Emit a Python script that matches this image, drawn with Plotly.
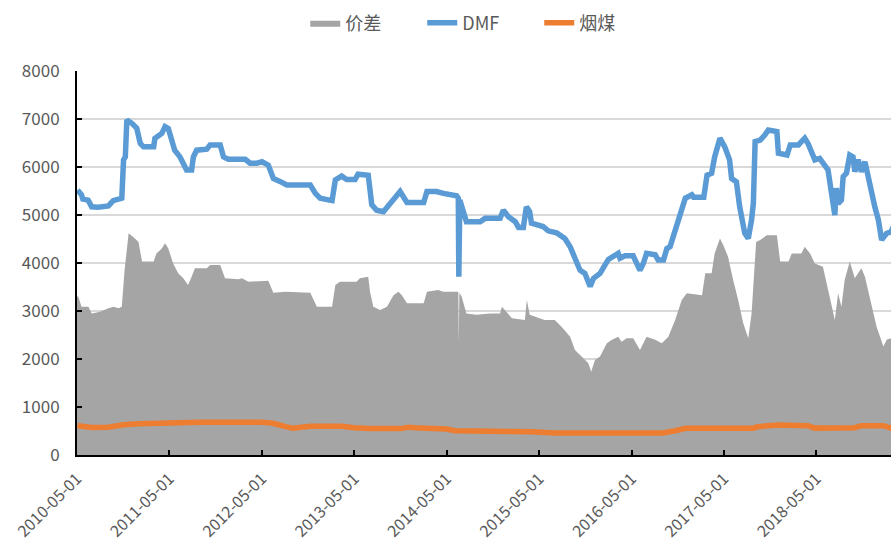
import plotly.graph_objects as go

# ---- 价差 (spread, gray area) ----
spread_dates = [
    "2010-05-01", "2010-05-06", "2010-05-19", "2010-06-15", "2010-06-28", "2010-07-31", "2010-09-02",
    "2010-09-22", "2010-10-12", "2010-10-25", "2010-11-05", "2010-11-21", "2010-12-16", "2010-12-30",
    "2011-01-13", "2011-02-28", "2011-03-11", "2011-04-01", "2011-04-14", "2011-04-27", "2011-05-16",
    "2011-06-05", "2011-06-25", "2011-07-14", "2011-07-28", "2011-08-10", "2011-09-26", "2011-10-09",
    "2011-11-18", "2011-12-07", "2012-01-29", "2012-02-12", "2012-03-08", "2012-05-26", "2012-06-15",
    "2012-08-01", "2012-11-08", "2012-11-21", "2012-12-04", "2013-02-02", "2013-02-15", "2013-03-05",
    "2013-05-10", "2013-05-23", "2013-06-25", "2013-07-02", "2013-07-15", "2013-08-11", "2013-09-07",
    "2013-10-03", "2013-10-22", "2013-11-05", "2013-11-25", "2014-01-30", "2014-02-12", "2014-03-28",
    "2014-04-18", "2014-06-09", "2014-06-16", "2014-06-18", "2014-06-20", "2014-06-29", "2014-07-18",
    "2014-08-27", "2014-10-19", "2014-11-28", "2014-12-05", "2014-12-17", "2015-01-14", "2015-03-06",
    "2015-03-14", "2015-03-25", "2015-05-23", "2015-07-02", "2015-07-29", "2015-09-01", "2015-09-20",
    "2015-10-16", "2015-11-12", "2015-11-23", "2015-12-08", "2015-12-28", "2016-01-24", "2016-02-13",
    "2016-03-09", "2016-03-22", "2016-04-11", "2016-05-07", "2016-06-03", "2016-06-29", "2016-08-02",
    "2016-08-28", "2016-09-23", "2016-10-20", "2016-11-15", "2016-12-05", "2017-02-03", "2017-02-16",
    "2017-03-13", "2017-03-25", "2017-04-15", "2017-04-28", "2017-05-17", "2017-06-06", "2017-06-26",
    "2017-07-16", "2017-08-05", "2017-08-18", "2017-09-05", "2017-09-21", "2017-10-17", "2017-11-26",
    "2017-12-09", "2018-01-11", "2018-01-24", "2018-03-03", "2018-03-16", "2018-04-06", "2018-04-25",
    "2018-05-27", "2018-06-16", "2018-07-13", "2018-07-26", "2018-08-08", "2018-08-21", "2018-09-10",
    "2018-09-30", "2018-10-26", "2018-11-09", "2018-12-05", "2018-12-25", "2019-01-21", "2019-02-03",
    "2019-02-20", "2019-03-01",
]
spread_values = [
    3300, 3300, 3090, 3090, 2950, 2985, 3055,
    3090, 3055, 3090, 3850, 4620, 4510, 4440,
    4030, 4030, 4200, 4300, 4410, 4300, 3990,
    3785, 3680, 3540, 3715, 3890, 3890, 3960,
    3960, 3680, 3660, 3680, 3610, 3630, 3380,
    3400, 3380, 3230, 3090, 3090, 3540, 3610,
    3610, 3680, 3715, 3400, 3090, 3020, 3090,
    3330, 3400, 3330, 3160, 3160, 3400, 3440,
    3400, 3400, 3400, 2330, 3380, 3300, 2950,
    2920, 2950, 2950, 3090, 3020, 2850, 2810,
    3230, 2920, 2810, 2810, 2670, 2465, 2190,
    2050, 1910, 1735, 1980, 2050, 2330, 2400,
    2465, 2360, 2430, 2430, 2190, 2465, 2400,
    2330, 2465, 2810, 3230, 3370, 3330, 3785,
    3785, 4200, 4510, 4375, 4130, 3650, 3230,
    2745, 2430, 2950, 4440, 4480, 4580, 4580,
    4030, 4030, 4200, 4200, 4340, 4200, 3990,
    3920, 3440, 2810, 3370, 3090, 3650, 4030,
    3680, 3890, 3715, 3090, 2670, 2260, 2400,
    2430, 2450,
]

# ---- DMF (blue line) ----
dmf_dates = [
    "2010-05-03", "2010-05-19", "2010-05-24", "2010-06-14", "2010-06-28", "2010-07-23", "2010-09-02",
    "2010-09-21", "2010-10-25", "2010-11-01", "2010-11-08", "2010-11-14", "2010-12-04", "2010-12-23",
    "2011-01-06", "2011-01-19", "2011-02-28", "2011-03-05", "2011-04-01", "2011-04-14", "2011-04-27",
    "2011-05-22", "2011-06-12", "2011-07-02", "2011-07-08", "2011-07-28", "2011-08-04", "2011-08-17",
    "2011-09-26", "2011-10-09", "2011-11-18", "2011-12-01", "2011-12-20", "2012-02-25", "2012-03-15",
    "2012-04-11", "2012-05-01", "2012-05-26", "2012-06-15", "2012-07-11", "2012-08-01", "2012-08-07",
    "2012-11-08", "2012-11-28", "2012-12-17", "2013-02-02", "2013-02-15", "2013-03-12", "2013-04-01",
    "2013-05-04", "2013-05-16", "2013-06-25", "2013-07-09", "2013-07-28", "2013-08-24", "2013-09-13",
    "2013-10-09", "2013-10-29", "2013-11-25", "2014-01-30", "2014-02-12", "2014-03-22", "2014-04-18",
    "2014-06-09", "2014-06-16", "2014-06-18", "2014-06-22", "2014-07-05", "2014-07-18", "2014-09-10",
    "2014-09-30", "2014-11-28", "2014-12-11", "2014-12-31", "2015-01-27", "2015-02-09", "2015-02-28",
    "2015-03-12", "2015-03-25", "2015-04-01", "2015-05-17", "2015-06-06", "2015-07-09", "2015-08-11",
    "2015-09-01", "2015-09-20", "2015-10-10", "2015-10-29", "2015-11-19", "2015-12-02", "2015-12-28",
    "2016-01-30", "2016-03-09", "2016-03-16", "2016-04-05", "2016-05-07", "2016-06-03", "2016-06-16",
    "2016-06-29", "2016-08-02", "2016-08-14", "2016-09-04", "2016-09-17", "2016-09-30", "2016-10-20",
    "2016-11-09", "2016-11-29", "2016-12-25", "2017-01-01", "2017-02-10", "2017-02-23", "2017-03-13",
    "2017-03-25", "2017-04-15", "2017-05-04", "2017-05-23", "2017-05-31", "2017-06-19", "2017-07-02",
    "2017-07-22", "2017-08-05", "2017-08-18", "2017-08-25", "2017-09-01", "2017-09-21", "2017-10-10",
    "2017-10-23", "2017-11-26", "2017-12-02", "2018-01-05", "2018-01-18", "2018-02-19", "2018-03-16",
    "2018-03-29", "2018-04-12", "2018-04-25", "2018-05-14", "2018-05-27", "2018-06-16", "2018-06-30",
    "2018-07-13", "2018-07-19", "2018-07-26", "2018-08-08", "2018-08-15", "2018-08-28", "2018-09-10",
    "2018-09-23", "2018-09-30", "2018-10-13", "2018-10-26", "2018-11-09", "2018-11-29", "2018-12-18",
    "2019-01-01", "2019-01-14", "2019-02-03", "2019-02-20", "2019-03-01",
]
dmf_values = [
    5520, 5420, 5330, 5310, 5170, 5160, 5190,
    5300, 5350, 6150, 6210, 6980, 6910, 6810,
    6490, 6420, 6420, 6600, 6700, 6840, 6800,
    6350, 6210, 6000, 5940, 5940, 6210, 6350,
    6370, 6460, 6460, 6210, 6160, 6160, 6080,
    6080, 6110, 6040, 5760, 5700, 5640, 5625,
    5625, 5450, 5350, 5300, 5730, 5810, 5740,
    5740, 5850, 5830, 5210, 5100, 5070, 5210,
    5380, 5490, 5260, 5260, 5490, 5490, 5450,
    5400, 5350, 3715, 5310, 5100, 4860, 4860,
    4930, 4930, 5100, 4965, 4860, 4740, 4740,
    5170, 5070, 4830, 4760, 4670, 4630, 4510,
    4340, 4100, 3850, 3785, 3510, 3680, 3785,
    4075, 4200, 4100, 4150, 4150, 3850, 3990,
    4200, 4170, 4060, 4060, 4300, 4340, 4650,
    4965, 5350, 5420, 5370, 5370, 5830, 5870,
    6210, 6600, 6420, 6150, 5760, 5690, 5170,
    4620, 4510, 4900, 5240, 6530, 6560, 6670,
    6770, 6740, 6285, 6250, 6460, 6460, 6600,
    6490, 6320, 6150, 6180, 6080, 5940, 5450,
    5000, 5560, 5240, 5310, 5800, 5870, 6250,
    6210, 5900, 6150, 5900, 6110, 5590, 5170,
    4900, 4480, 4620, 4650, 4750,
]

# ---- 烟煤 (bituminous coal, orange line) ----
coal_dates = [
    "2010-05-03", "2010-06-28", "2010-09-01", "2010-11-01", "2011-01-01", "2011-05-01", "2011-09-01",
    "2012-05-01", "2012-06-15", "2012-08-01", "2012-09-01", "2012-11-08", "2013-03-12", "2013-05-01",
    "2013-07-01", "2013-11-01", "2013-12-01", "2014-01-15", "2014-05-01", "2014-06-01", "2014-11-01",
    "2015-03-01", "2015-04-01", "2015-07-01", "2016-05-01", "2016-09-01", "2016-10-20", "2016-12-01",
    "2017-08-25", "2017-09-10", "2017-12-01", "2018-03-29", "2018-04-25", "2018-09-30", "2018-10-26",
    "2019-01-21", "2019-02-20", "2019-03-01",
]
coal_values = [
    610, 575, 580, 630, 650, 665, 680,
    680, 660, 590, 560, 600, 600, 570,
    550, 550, 580, 560, 540, 505, 505,
    505, 485, 460, 455, 460, 505, 555,
    555, 590, 625, 610, 560, 570, 610,
    610, 560, 550,
]

x_start = "2010-05-01"
x_end = "2019-02-20"
y_max = 8000
y_step = 1000

font_family = "Noto Sans CJK SC, Noto Sans, sans-serif"
text_color = "#595959"

fig = go.Figure()
fig.add_trace(go.Scatter(
    x=spread_dates, y=spread_values, name="价差", mode="lines",
    line=dict(width=0, color="#A5A5A5"), fill="tozeroy", fillcolor="#A5A5A5",
))
fig.add_trace(go.Scatter(
    x=dmf_dates, y=dmf_values, name="DMF", mode="lines",
    line=dict(width=5.5, color="#5B9BD5"),
))
fig.add_trace(go.Scatter(
    x=coal_dates, y=coal_values, name="烟煤", mode="lines",
    line=dict(width=5.5, color="#ED7D31"),
))

fig.update_layout(
    width=891, height=541,
    margin=dict(l=77, r=0, t=71, b=86, autoexpand=False),
    paper_bgcolor="white", plot_bgcolor="white",
    font=dict(family=font_family, color=text_color, size=16),
    showlegend=True,
    legend=dict(
        orientation="h", x=0.496, xanchor="center", y=1.125, yanchor="middle",
        font=dict(size=18, color=text_color),
        entrywidth=72, entrywidthmode="pixels",
        bgcolor="rgba(0,0,0,0)",
    ),
    xaxis=dict(
        type="date", range=[x_start, x_end], automargin=False,
        tick0=x_start, dtick="M12", tickformat="%Y-%m-%d", tickangle=-45,
        showgrid=False, showline=True, linecolor="black", linewidth=2,
        ticks="inside", ticklen=5, tickwidth=2, tickcolor="black",
        tickfont=dict(size=16, color=text_color), ticklabelstandoff=6,
    ),
    yaxis=dict(
        range=[0, y_max], dtick=y_step, tick0=0, automargin=False,
        showgrid=True, gridcolor="#D9D9D9", gridwidth=2, zeroline=False,
        showline=True, linecolor="black", linewidth=2,
        ticks="inside", ticklen=5, tickwidth=2, tickcolor="black",
        tickfont=dict(size=17, color=text_color), ticklabelstandoff=12,
    ),
)

fig.write_html(
    "out.html",
    config={"displayModeBar": False},
    post_script="document.body.style.margin='0';document.body.style.overflow='hidden';",
)
